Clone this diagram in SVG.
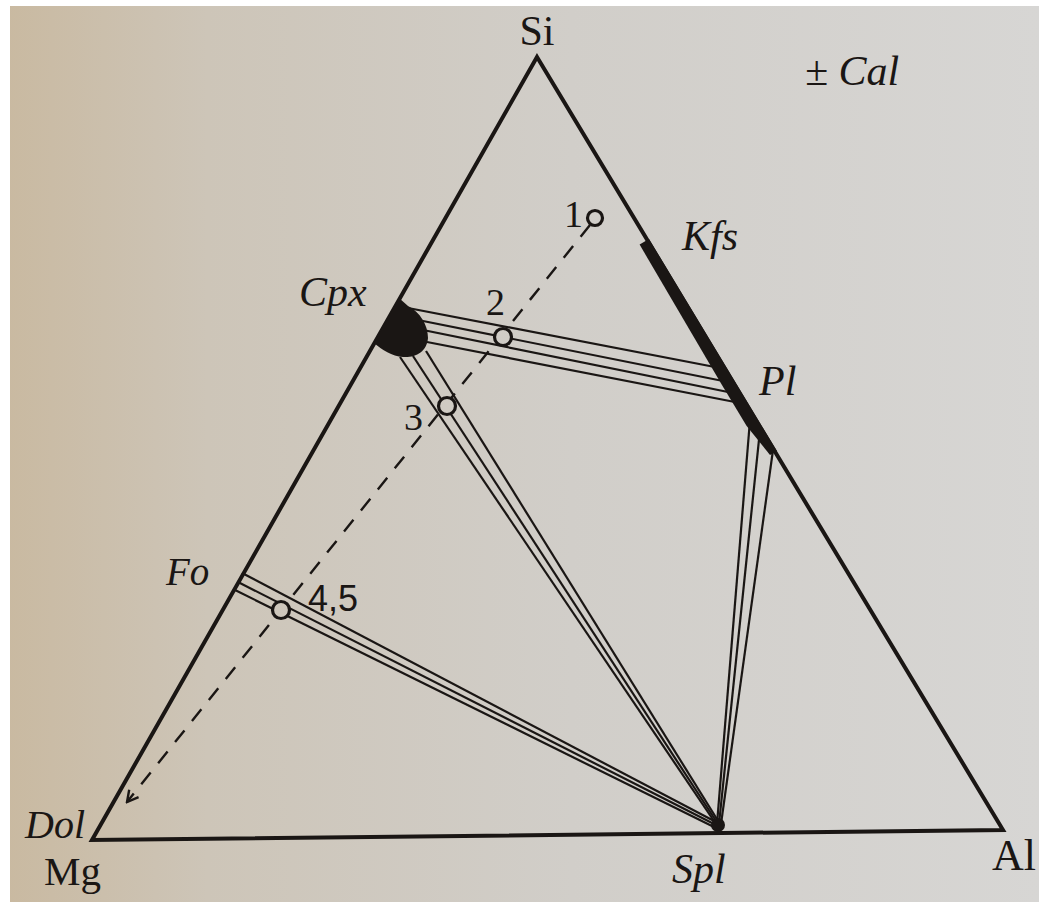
<svg xmlns="http://www.w3.org/2000/svg" width="1039" height="902" viewBox="0 0 1039 902">
<defs>
<linearGradient id="bg" gradientUnits="userSpaceOnUse" x1="0" y1="0" x2="1039" y2="0">
<stop offset="0" stop-color="#c9b9a0"/>
<stop offset="0.2" stop-color="#cdc5b8"/>
<stop offset="0.55" stop-color="#d1cec9"/>
<stop offset="1" stop-color="#d7d6d4"/>
</linearGradient>
<marker id="arr" markerWidth="14" markerHeight="14" refX="12" refY="7" orient="auto" markerUnits="userSpaceOnUse">
<path d="M1,1 L12,7 L1,13" fill="none" stroke="#1a1614" stroke-width="2.4"/>
</marker>
<style>
.edge{fill:none;stroke:#1a1614;stroke-width:4;stroke-linejoin:miter}
.tie{fill:none;stroke:#1a1614;stroke-width:2.2}
.dash{fill:none;stroke:#1a1614;stroke-width:2.4;stroke-dasharray:15 12}
.pt{fill:url(#bg);stroke:#1a1614;stroke-width:3.2}
.lbl{font-family:"Liberation Serif",serif;fill:#1a1614}
.it{font-family:"Liberation Serif",serif;font-style:italic;fill:#1a1614}
.num{font-family:"Liberation Sans",sans-serif;fill:#1a1614}
</style>
</defs>
<rect width="1039" height="902" fill="url(#bg)"/>
<rect width="1039" height="6" fill="#ffffff"/>
<rect width="10" height="902" fill="#ffffff"/>

<g id="triangle">
<path class="edge" d="M537,57 L1003,830 L92,840 Z"/>
</g>

<g id="connectors">
<line class="tie" x1="408" y1="308" x2="720" y2="368"/>
<line class="tie" x1="418" y1="320" x2="728" y2="382"/>
<line class="tie" x1="423" y1="330" x2="733" y2="393"/>
<line class="tie" x1="427" y1="342" x2="740" y2="403"/>
<line class="tie" x1="400" y1="357" x2="716" y2="824"/>
<line class="tie" x1="413" y1="356" x2="718" y2="824"/>
<line class="tie" x1="426" y1="351" x2="720" y2="824"/>
<line class="tie" x1="242" y1="573" x2="716" y2="822"/>
<line class="tie" x1="238" y1="582" x2="716" y2="825"/>
<line class="tie" x1="235" y1="590" x2="716" y2="828"/>
<line class="tie" x1="750" y1="420" x2="717" y2="824"/>
<line class="tie" x1="760" y1="430" x2="719" y2="824"/>
<line class="tie" x1="773" y1="450" x2="721" y2="824"/>
<line class="dash" x1="590" y1="225" x2="127" y2="802" marker-end="url(#arr)"/>
</g>

<g id="Kfs-Pl">
<polygon points="649,239 777,451 770,455 746.5,425.7 722.4,385.7 639.6,244.6" fill="#1a1614"/>
<text class="it" x="682" y="250" font-size="42">Kfs</text>
<text class="it" x="759" y="395" font-size="42">Pl</text>
</g>

<g id="Cpx">
<path d="M399,298 L408,306 C420,312 428,325 428,338 C427,352 415,358 403,357 C392,356 382,350 374,343 Z" fill="#1a1614"/>
<text class="it" x="299" y="306" font-size="42">Cpx</text>
</g>

<g id="Fo">
<text class="it" x="166" y="585" font-size="39">Fo</text>
</g>

<g id="Spl">
<circle cx="718" cy="825" r="7" fill="#1a1614"/>
<text class="it" x="672" y="883" font-size="42">Spl</text>
</g>

<g id="Si"><text class="lbl" x="537" y="45" font-size="42" text-anchor="middle">Si</text></g>
<g id="Mg"><text class="lbl" x="44" y="885" font-size="41">Mg</text></g>
<g id="Dol"><text class="it" x="25" y="838" font-size="40">Dol</text></g>
<g id="Al"><text class="lbl" x="992" y="870" font-size="44">Al</text></g>
<g id="Cal"><text class="it" x="805" y="85" font-size="42">± Cal</text></g>

<g id="p1">
<circle class="pt" cx="595" cy="218" r="7.5"/>
<text class="lbl" x="564" y="227" font-size="38">1</text>
</g>
<g id="p2">
<circle class="pt" cx="503" cy="337" r="8.5"/>
<text class="lbl" x="486" y="315" font-size="38">2</text>
</g>
<g id="p3">
<circle class="pt" cx="447" cy="406" r="8.5"/>
<text class="lbl" x="404" y="430" font-size="38">3</text>
</g>
<g id="p45">
<circle class="pt" cx="281" cy="610" r="8.5"/>
<text class="num" x="308" y="611" font-size="36">4,5</text>
</g>
</svg>
